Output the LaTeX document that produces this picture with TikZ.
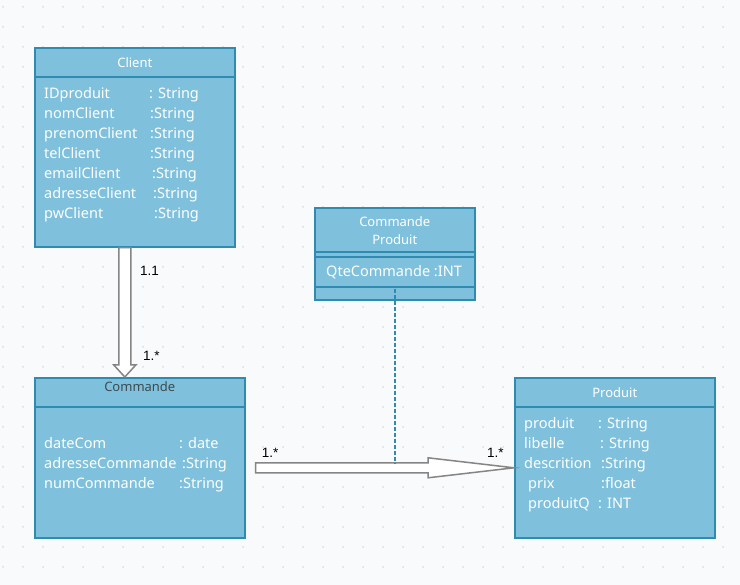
\documentclass[tikz,border=0pt]{standalone}
\usepackage{fontspec}
\setmainfont{Noto Sans}
\newfontfamily\labelfont{Liberation Sans}
\usetikzlibrary{calc}
\definecolor{boxfill}{HTML}{7FC1DC}
\definecolor{boxline}{HTML}{2F8BB0}
\definecolor{arrowgray}{HTML}{858585}
\definecolor{headgray}{HTML}{3D4A50}
\definecolor{bgcol}{HTML}{F9FAFB}
\definecolor{griddot}{HTML}{D9DCE0}
\begin{document}
\begin{tikzpicture}[x=1pt,y=-1pt]
       \tikzstyle{classbox}=[draw=boxline, fill=boxfill, line width=1.6pt, anchor=north west, inner sep=0pt]
       \tikzstyle{headtxt}=[white, font=\fontsize{13}{16}\selectfont, inner sep=0pt]
       \tikzstyle{attr}=[white, font=\fontsize{14.5}{20}\selectfont, anchor=base west, inner sep=0pt]
       \tikzstyle{sepline}=[draw=boxline, line width=1.6pt]
       \tikzstyle{fatarrow}=[draw=arrowgray, fill=white, line width=1.5pt, line join=miter]
       \tikzstyle{assoc}=[draw=boxline, line width=1.4pt, dash pattern=on 4pt off 2pt]
       \tikzstyle{mult}=[font=\labelfont\fontsize{13.5}{16}\selectfont, anchor=base west, inner sep=0pt]
       % background and dot grid
       \fill[bgcol] (0,0) rectangle (740,585);
       \useasboundingbox (0,0) rectangle (740,585);
       \foreach \gx in {3,23,...,723}
        \foreach \gy in {7,27,...,587}
         \fill[griddot] (\gx,\gy) circle (1pt);
       % classes
       \node[classbox, minimum width=200pt, minimum height=199pt] (client) at (34,47) {};
       \node[classbox, minimum width=210pt, minimum height=160pt] (cmd) at (34,377) {};
       \node[classbox, minimum width=200pt, minimum height=160pt] (prod) at (514,377) {};
       \node[classbox, minimum width=160pt, minimum height=92pt] (cp) at (314,207) {};
       \draw[sepline] ($(client.north west)+(0,30)$) -- ($(client.north east)+(0,30)$);
       \draw[sepline] ($(cmd.north west)+(0,30)$) -- ($(cmd.north east)+(0,30)$);
       \draw[sepline] ($(prod.north west)+(0,30)$) -- ($(prod.north east)+(0,30)$);
       \foreach \dy in {45,50,80}
        \draw[sepline] ($(cp.north west)+(0,\dy)$) -- ($(cp.north east)+(0,\dy)$);
       % headers
       \node[headtxt] (clienthead) at ($(client.north)+(0,16)$) {Client};
       \node[headtxt, headgray] (cmdhead) at ($(cmd.north)+(0,10)$) {Commande};
       \node[headtxt] (prodhead) at ($(prod.north)+(0,16)$) {Produit};
       \node[headtxt] (cphead1) at ($(cp.north)+(0,15)$) {Commande};
       \node[headtxt] (cphead2) at ($(cp.north)+(0,33)$) {Produit};
       % attributes
       \foreach \name/\type/\tx [count=\i] in {IDproduit/{: String}/115, nomClient/:String/116,
          prenomClient/:String/116, telClient/:String/116, emailClient/:String/118,
          adresseClient/:String/119, pwClient/:String/120} {
        \node[attr] (clientname\i) at ($(client.north west)+(10,32+20*\i)$) {\name};
        \node[attr] (clienttype\i) at ($(client.north west)+(\tx,32+20*\i)$) {\type};
       }
       \foreach \name/\type/\tx [count=\i] in {dateCom/{: date}/145, adresseCommande/:String/148,
          numCommande/:String/145} {
        \node[attr] (cmdname\i) at ($(cmd.north west)+(10,52+20*\i)$) {\name};
        \node[attr] (cmdtype\i) at ($(cmd.north west)+(\tx,52+20*\i)$) {\type};
       }
       \foreach \name/\nx/\type/\tx [count=\i] in {produit/10/{: String}/84, libelle/10/{: String}/86,
          descrition/10/:String/87, prix/14/:float/87, produitQ/14/{: INT}/84} {
        \node[attr] (prodname\i) at ($(prod.north west)+(\nx,32+20*\i)$) {\name};
        \node[attr] (prodtype\i) at ($(prod.north west)+(\tx,32+20*\i)$) {\type};
       }
       \node[attr, anchor=west] (qte) at ($(cp.north west)+(12,65)$) {QteCommande :INT};
       % connectors
       \coordinate (vtop) at ($(client.south)+(-10,0)$);
       \coordinate (vend) at (vtop |- cmd.north);
       \draw[fatarrow] ($(vtop)+(-6,0)$) -- ($(vend)+(-6,-12)$) -- ($(vend)+(-11,-12)$) -- (vend)
          -- ($(vend)+(11,-12)$) -- ($(vend)+(6,-12)$) -- ($(vtop)+(6,0)$) -- cycle;
       \coordinate (hstart) at ($(cmd.east)+(10,10)$);
       \coordinate (hend) at (prod.west |- hstart);
       \draw[fatarrow] ($(hstart)+(0,-5)$) -- ($(hend)+(-86,-5)$) -- ($(hend)+(-86,-10)$) -- (hend)
          -- ($(hend)+(-86,10)$) -- ($(hend)+(-86,5)$) -- ($(hstart)+(0,5)$) -- cycle;
       \draw[assoc] ($(cp.south)+(0,-12)$) -- ($(cp.south |- hstart)+(0,-4)$);
       % multiplicities
       \node[mult] (m1) at ($(vtop)+(15,28)$) {1.1};
       \node[mult] (m2) at ($(vend)+(18,-16)$) {1.*};
       \node[mult] (m3) at ($(hstart)+(6,-10)$) {1.*};
       \node[mult] (m4) at ($(hend)+(-27,-10)$) {1.*};
      \end{tikzpicture}
\end{document}
